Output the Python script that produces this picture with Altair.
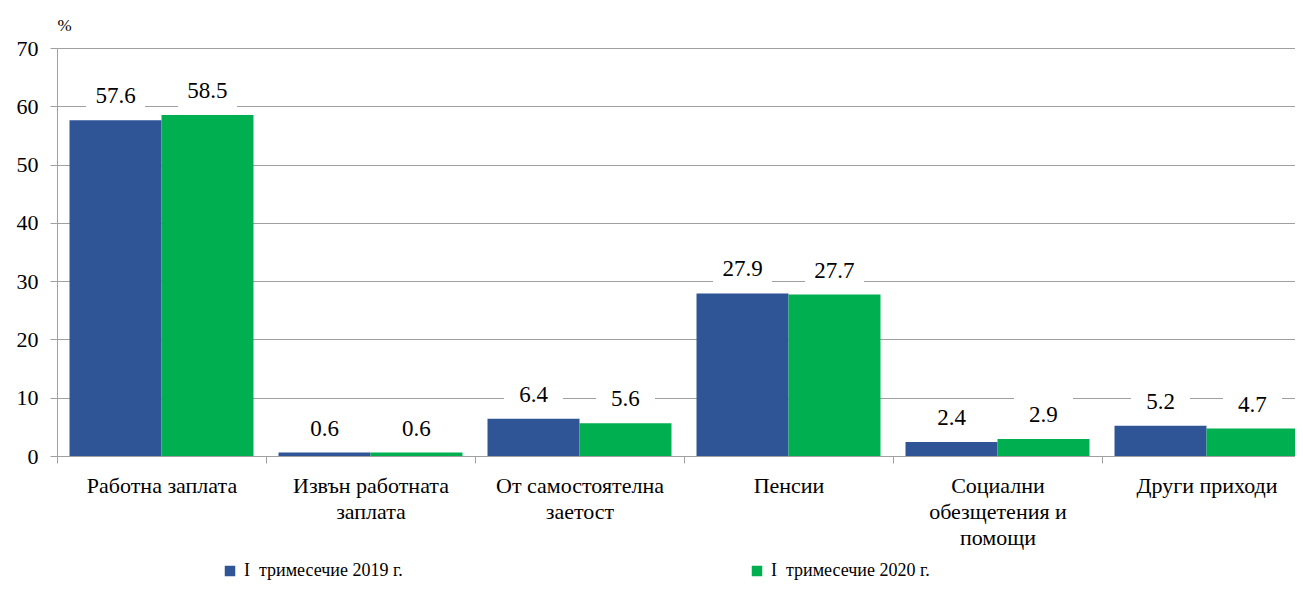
import altair as alt
import pandas as pd

categories = [
    "Работна заплата",
    "Извън работната\nзаплата",
    "От самостоятелна\nзаетост",
    "Пенсии",
    "Социални\nобезщетения и\nпомощи",
    "Други приходи",
]
series = ["I\u00a0 тримесечие 2019 г.", "I\u00a0 тримесечие 2020 г."]
values_2019 = [57.6, 0.6, 6.4, 27.9, 2.4, 5.2]
values_2020 = [58.5, 0.6, 5.6, 27.7, 2.9, 4.7]
colors = ["#2F5597", "#00B050"]

rows = []
for c, a, b in zip(categories, values_2019, values_2020):
    rows.append({"cat": c, "series": series[0], "value": a, "label": f"{a:.1f}"})
    rows.append({"cat": c, "series": series[1], "value": b, "label": f"{b:.1f}"})
df = pd.DataFrame(rows)

FONT = "Liberation Serif, DejaVu Serif, serif"

x = alt.X(
    "cat:N",
    sort=categories,
    scale=alt.Scale(paddingInner=0, paddingOuter=0, range=[0, 1254]),
    axis=alt.Axis(
        title=None,
        labelAngle=0,
        labelExpr="split(datum.label, '\\n')",
        labelFont=FONT,
        labelFontSize=22,
        labelColor="#000000",
        labelLineHeight=26,
        labelPadding=12,
        labelBaseline="top",
        labelLimit=0,
        tickBand="extent",
        tickSize=7,
        tickColor="#a0a0a0",
        domainColor="#a0a0a0",
        grid=False,
    ),
)
xoff = alt.XOffset(
    "series:N",
    sort=series,
    scale=alt.Scale(paddingInner=0, paddingOuter=0.136),
)
y = alt.Y(
    "value:Q",
    scale=alt.Scale(domain=[0, 70], nice=False),
    axis=alt.Axis(
        values=list(range(0, 71, 10)),
        title="%",
        titleAngle=0,
        titleX=7,
        titleY=-23,
        titleAlign="center",
        titleBaseline="middle",
        titleFont=FONT,
        titleFontSize=17,
        titleFontWeight="normal",
        titleColor="#000000",
        labelFont=FONT,
        labelFontSize=22,
        labelColor="#000000",
        labelPadding=12,
        tickSize=7,
        tickColor="#a0a0a0",
        domainColor="#a0a0a0",
        gridColor="#a0a0a0",
        gridWidth=1,
    ),
)

bars = alt.Chart(df).mark_bar().encode(
    x=x,
    xOffset=xoff,
    y=y,
    color=alt.Color(
        "series:N",
        sort=series,
        scale=alt.Scale(domain=series, range=colors),
        legend=alt.Legend(
            title=None,
            orient="none",
            direction="horizontal",
            legendX=164,
            legendY=514,
            symbolType="square",
            symbolSize=110,
            symbolStrokeWidth=0,
            labelFont=FONT,
            labelFontSize=18,
            labelColor="#000000",
            labelLimit=0,
            columnPadding=345,
            labelOffset=5,
        ),
    ),
)

boxes = alt.Chart(df).mark_point(
    shape="M-1,-0.64L1,-0.64L1,0.64L-1,0.64Z",
    size=3481,
    filled=True,
    color="white",
    opacity=1,
    yOffset=-24,
).encode(x=x, xOffset=xoff, y=y)

labels = alt.Chart(df).mark_text(
    font=FONT, fontSize=23, color="#000000", dy=-24, baseline="middle"
).encode(x=x, xOffset=xoff, y=y, text="label:N")

chart = (
    alt.layer(bars, boxes, labels)
    .properties(
        width=1238,
        height=408,
        autosize=alt.AutoSizeParams(type="none"),
        padding={"left": 49, "top": 40, "right": 0, "bottom": 132},
    )
    .configure_view(strokeWidth=0)
)

chart.save("out.html", embed_options={"renderer": "svg", "actions": False})
